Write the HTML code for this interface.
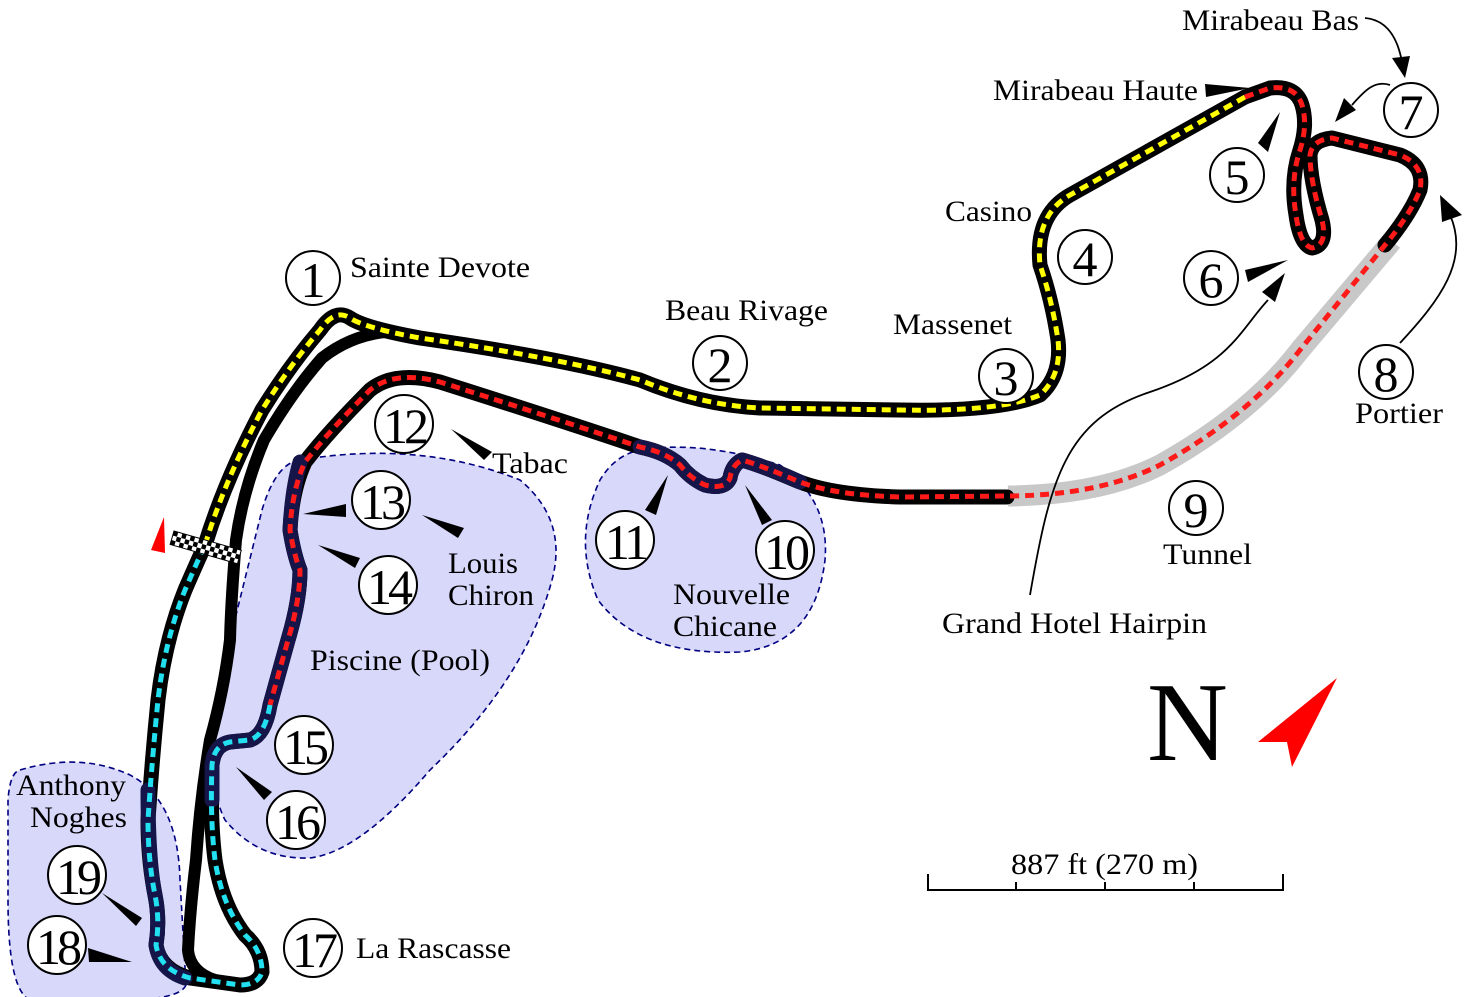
<!DOCTYPE html>
<html><head><meta charset="utf-8"><style>
html,body{margin:0;padding:0;background:#fff;}
svg{display:block;}
text{font-family:"Liberation Serif",serif;fill:#000;}
</style></head><body>
<svg width="1465" height="997" viewBox="0 0 1465 997" xmlns="http://www.w3.org/2000/svg">
<!-- blobs -->
<g fill="#d8d8fb" stroke="#000080" stroke-width="1.6" stroke-dasharray="6,4">
<path d="M20,770 Q80,752 130,775 Q178,800 180,880 L186,985 Q180,1000 120,1000 L30,1000 Q8,990 8,900 L8,800 Q10,772 20,770 Z"/>
<path d="M300,460 Q420,440 520,480 Q568,520 552,580 Q525,680 430,770 Q360,852 310,858 Q258,860 225,820 Q205,780 215,700 L262,510 Q276,463 300,460 Z"/>
<path d="M640,450 Q700,440 780,465 Q830,500 825,560 Q815,645 740,652 Q640,656 598,600 Q572,540 600,480 Q615,455 640,450 Z"/>
</g>
<!-- tunnel -->
<path d="M1392,241 L1300,350 Q1250,415 1160,465 Q1100,495 1008,496" fill="none" stroke="#c8c8c8" stroke-width="21"/>
<!-- pit lane black -->
<path d="M385,332 Q350,336 322,358 Q292,392 264,440 Q243,490 236,540 Q231,600 230,640 Q224,690 210,740 Q200,800 196,860 Q190,910 188,950 Q190,972 215,980" fill="none" stroke="#000" stroke-width="12" stroke-linejoin="round" stroke-linecap="round"/>
<!-- main track casing -->
<g fill="none" stroke="#000" stroke-width="15" stroke-linejoin="round" stroke-linecap="round">
<path d="M205,545 Q225,480 262,410 Q290,365 320,330 Q335,308 350,318 Q365,328 420,338 Q560,358 640,380 Q700,405 760,408 L900,410 Q1000,412 1040,395 Q1062,375 1058,340 Q1052,300 1040,265 Q1035,215 1070,195 L1245,97"/>
<path d="M1245,97 L1270,88 Q1296,85 1302,105 Q1308,125 1300,150 Q1290,180 1296,215 Q1300,245 1312,248 Q1328,245 1322,220 Q1310,180 1310,155 Q1312,140 1332,138 L1400,155 Q1425,165 1420,190 Q1410,215 1385,245"/>
<path d="M1007,497 L900,497 Q830,495 795,480 Q760,465 742,460 Q732,465 730,478 Q725,490 705,485 Q690,478 680,465 Q665,452 640,447 Q560,420 440,382 Q395,370 370,390 Q330,430 305,462 Q292,490 290,530 Q294,555 300,570 Q300,600 288,640 L270,705 Q265,735 250,740 L230,742 Q214,745 212,765 Q210,820 215,860 Q222,905 245,935 Q262,950 262,972 Q258,985 240,985 L190,978 Q160,970 156,945 Q160,920 155,895 Q148,860 148,820 Q152,760 158,700 Q165,640 185,590 Q198,560 205,545"/>
</g>
<!-- navy overlay in blobs -->
<g fill="none" stroke="#15154a" stroke-width="15" stroke-linejoin="round" stroke-linecap="round">
<path d="M800,482 Q770,468 742,460 Q732,465 730,478 Q725,490 705,485 Q690,478 680,465 Q665,452 640,447"/>
<path d="M300,462 Q292,490 290,530 Q294,555 300,570 Q300,600 288,640 L270,705 Q265,735 250,740 L230,742 Q214,745 212,765 L212,800"/>
<path d="M148,790 Q148,860 155,895 Q160,920 156,945 Q160,970 185,978"/>
</g>
<!-- dashes -->
<g fill="none" stroke-width="5" stroke-dasharray="9,6" stroke-linejoin="round">
<path d="M205,545 Q225,480 262,410 Q290,365 320,330 Q335,308 350,318 Q365,328 420,338 Q560,358 640,380 Q700,405 760,408 L900,410 Q1000,412 1040,395 Q1062,375 1058,340 Q1052,300 1040,265 Q1035,215 1070,195 L1245,97" stroke="#ffff00"/>
<path d="M1245,97 L1270,88 Q1296,85 1302,105 Q1308,125 1300,150 Q1290,180 1296,215 Q1300,245 1312,248 Q1328,245 1322,220 Q1310,180 1310,155 Q1312,140 1332,138 L1400,155 Q1425,165 1420,190 Q1410,215 1385,245 L1300,350 Q1250,415 1160,465 Q1100,495 1010,496 L900,497 Q830,495 795,480 Q760,465 742,460 Q732,465 730,478 Q725,490 705,485 Q690,478 680,465 Q665,452 640,447 Q560,420 440,382 Q395,370 370,390 Q330,430 305,462 Q292,490 290,530 Q294,555 300,570 Q300,600 288,640 L270,705" stroke="#ff1a1a"/>
<path d="M270,705 Q265,735 250,740 L230,742 Q214,745 212,765 Q210,820 215,860 Q222,905 245,935 Q262,950 262,972 Q258,985 240,985 L190,978 Q160,970 156,945 Q160,920 155,895 Q148,860 148,820 Q152,760 158,700 Q165,640 185,590 Q198,560 205,545" stroke="#22e0f0"/>
</g>
<!-- checkered flag -->
<g transform="translate(174,531) rotate(16)">
<rect x="0" y="0" width="70" height="14" fill="#fff" stroke="#000" stroke-width="1"/>
<g fill="#000">
<rect x="0" y="0" width="4.4" height="4.7"/><rect x="8.8" y="0" width="4.4" height="4.7"/><rect x="17.6" y="0" width="4.4" height="4.7"/><rect x="26.4" y="0" width="4.4" height="4.7"/><rect x="35.2" y="0" width="4.4" height="4.7"/><rect x="44" y="0" width="4.4" height="4.7"/><rect x="52.8" y="0" width="4.4" height="4.7"/><rect x="61.6" y="0" width="4.4" height="4.7"/>
<rect x="4.4" y="4.7" width="4.4" height="4.7"/><rect x="13.2" y="4.7" width="4.4" height="4.7"/><rect x="22" y="4.7" width="4.4" height="4.7"/><rect x="30.8" y="4.7" width="4.4" height="4.7"/><rect x="39.6" y="4.7" width="4.4" height="4.7"/><rect x="48.4" y="4.7" width="4.4" height="4.7"/><rect x="57.2" y="4.7" width="4.4" height="4.7"/><rect x="66" y="4.7" width="4" height="4.7"/>
<rect x="0" y="9.4" width="4.4" height="4.6"/><rect x="8.8" y="9.4" width="4.4" height="4.6"/><rect x="17.6" y="9.4" width="4.4" height="4.6"/><rect x="26.4" y="9.4" width="4.4" height="4.6"/><rect x="35.2" y="9.4" width="4.4" height="4.6"/><rect x="44" y="9.4" width="4.4" height="4.6"/><rect x="52.8" y="9.4" width="4.4" height="4.6"/><rect x="61.6" y="9.4" width="4.4" height="4.6"/>
</g></g>
<polygon points="151,550 164,517 165,553" fill="#ff0000"/>
<!-- pointer triangles -->
<g fill="#000">
<polygon points="1205,84 1250,88 1206,97"/>
<polygon points="1280,112 1258,143 1268,152"/>
<polygon points="1245,270 1288,260 1248,282"/>
<polygon points="451,429 492,452 484,460"/>
<polygon points="303,514 346,504 346,517"/>
<polygon points="422,515 464,528 458,538"/>
<polygon points="318,545 360,558 355,568"/>
<polygon points="668,475 645,510 656,515"/>
<polygon points="745,485 772,520 762,525"/>
<polygon points="236,767 272,792 264,800"/>
<polygon points="102,893 142,918 136,926"/>
<polygon points="88,948 132,962 89,962"/>
</g>
<!-- connector lines -->
<g fill="none" stroke="#000" stroke-width="1.8">
<path d="M1030,595 C1050,480 1065,420 1150,392 C1230,365 1240,330 1268,300"/>
<path d="M1400,343 C1440,300 1470,260 1450,215"/>
<path d="M1365,18 C1388,20 1398,40 1402,62"/>
<path d="M1390,85 C1375,80 1365,90 1352,105"/>
</g>
<g fill="#000">
<polygon points="1285,273 1262,292 1275,302"/>
<polygon points="1440,195 1442,222 1462,215"/>
<polygon points="1405,78 1392,58 1410,56"/>
<polygon points="1335,122 1344,98 1356,110"/>
</g>
<!-- circles -->
<g fill="#fff" stroke="#000" stroke-width="2">
<circle cx="313" cy="278" r="27"/><circle cx="720" cy="363" r="27"/><circle cx="1006" cy="376" r="27"/>
<circle cx="1085" cy="257" r="27"/><circle cx="1237" cy="175" r="27"/><circle cx="1211" cy="278" r="27"/>
<circle cx="1411" cy="110" r="27"/><circle cx="1386" cy="372" r="27"/><circle cx="1196" cy="508" r="27"/>
<circle cx="785" cy="550" r="29"/><circle cx="625" cy="540" r="29"/><circle cx="404" cy="424" r="29"/>
<circle cx="381" cy="500" r="29"/><circle cx="388" cy="585" r="29"/><circle cx="304" cy="745" r="29"/>
<circle cx="296" cy="820" r="29"/><circle cx="313" cy="948" r="29"/><circle cx="57" cy="945" r="29"/><circle cx="77" cy="875" r="29"/>
</g>
<g font-size="50" text-anchor="middle">
<text x="313" y="297">1</text><text x="720" y="382">2</text><text x="1006" y="395">3</text>
<text x="1085" y="276">4</text><text x="1237" y="194">5</text><text x="1211" y="297">6</text>
<text x="1411" y="129">7</text><text x="1386" y="391">8</text><text x="1196" y="527">9</text>
<text x="785" y="569" letter-spacing="-4">10</text><text x="625" y="559" letter-spacing="-4">11</text><text x="404" y="443" letter-spacing="-4">12</text>
<text x="381" y="519" letter-spacing="-4">13</text><text x="388" y="604" letter-spacing="-4">14</text><text x="304" y="764" letter-spacing="-4">15</text>
<text x="296" y="839" letter-spacing="-4">16</text><text x="313" y="967" letter-spacing="-4">17</text><text x="57" y="964" letter-spacing="-4">18</text><text x="77" y="894" letter-spacing="-4">19</text>
</g>
<g font-size="30">
<text x="350" y="277" textLength="180" lengthAdjust="spacingAndGlyphs">Sainte Devote</text>
<text x="665" y="320" textLength="163" lengthAdjust="spacingAndGlyphs">Beau Rivage</text>
<text x="893" y="334" textLength="119" lengthAdjust="spacingAndGlyphs">Massenet</text>
<text x="945" y="221" textLength="87" lengthAdjust="spacingAndGlyphs">Casino</text>
<text x="993" y="100" textLength="205" lengthAdjust="spacingAndGlyphs">Mirabeau Haute</text>
<text x="1182" y="30" textLength="177" lengthAdjust="spacingAndGlyphs">Mirabeau Bas</text>
<text x="1355" y="423" textLength="88" lengthAdjust="spacingAndGlyphs">Portier</text>
<text x="1163" y="564" textLength="89" lengthAdjust="spacingAndGlyphs">Tunnel</text>
<text x="942" y="633" textLength="265" lengthAdjust="spacingAndGlyphs">Grand Hotel Hairpin</text>
<text x="673" y="604" textLength="117" lengthAdjust="spacingAndGlyphs">Nouvelle</text>
<text x="673" y="636" textLength="104" lengthAdjust="spacingAndGlyphs">Chicane</text>
<text x="492" y="473" textLength="76" lengthAdjust="spacingAndGlyphs">Tabac</text>
<text x="448" y="573" textLength="70" lengthAdjust="spacingAndGlyphs">Louis</text>
<text x="448" y="605" textLength="86" lengthAdjust="spacingAndGlyphs">Chiron</text>
<text x="310" y="670" textLength="180" lengthAdjust="spacingAndGlyphs">Piscine (Pool)</text>
<text x="16" y="795" textLength="110" lengthAdjust="spacingAndGlyphs">Anthony</text>
<text x="30" y="827" textLength="97" lengthAdjust="spacingAndGlyphs">Noghes</text>
<text x="356" y="958" textLength="155" lengthAdjust="spacingAndGlyphs">La Rascasse</text>
<text x="1011" y="874" textLength="187" lengthAdjust="spacingAndGlyphs">887 ft (270 m)</text>
</g>
<text x="1147" y="760" font-size="112">N</text>
<polygon points="1337,678 1292,767 1287,742 1258,742" fill="#ff0000"/>
<g stroke="#000" stroke-width="2" fill="none">
<path d="M928,890 L1283,890 M928,874 L928,891 M1283,874 L1283,891 M1016,882 L1016,890 M1105,882 L1105,890 M1194,882 L1194,890"/>
</g>
</svg>
</body></html>
